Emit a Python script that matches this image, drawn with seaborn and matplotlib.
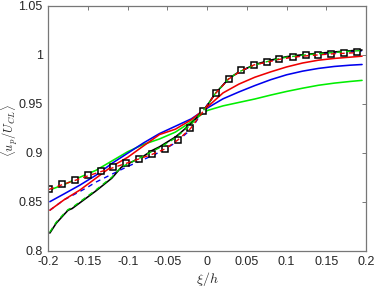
import numpy as np
import pandas as pd
import matplotlib
matplotlib.use("Agg")
import matplotlib.pyplot as plt
import seaborn as sns

# ---------------- data ----------------
xi_grid = [-0.198, -0.18, -0.16, -0.14, -0.12, -0.10, -0.08, -0.06, -0.04, -0.02,
           0.0, 0.02, 0.04, 0.06, 0.08, 0.10, 0.12, 0.14, 0.16, 0.18, 0.195]

green_solid = [0.862, 0.8675, 0.875, 0.882, 0.8915, 0.901, 0.9085, 0.914, 0.921, 0.9315,
               0.943, 0.9478, 0.9513, 0.9548, 0.9588, 0.9625, 0.9658, 0.9688, 0.971, 0.9727, 0.9738]
blue_solid = [0.850, 0.858, 0.867, 0.877, 0.889, 0.8995, 0.910, 0.9195, 0.927, 0.9345,
              0.9455, 0.955, 0.962, 0.9685, 0.9745, 0.9795, 0.9832, 0.986, 0.988, 0.9893, 0.990]
red_solid = [0.8413, 0.852, 0.862, 0.874, 0.886, 0.8953, 0.907, 0.9185, 0.924, 0.9335,
             0.9465, 0.961, 0.970, 0.977, 0.9825, 0.9875, 0.9915, 0.9944, 0.9962, 0.9975, 0.9985]

xi_black = [-0.198, -0.19, -0.18, -0.175, -0.17, -0.16, -0.15, -0.14, -0.12, -0.108, -0.10,
            -0.08, -0.07, -0.06, -0.04, -0.033, -0.02, -0.006, 0.0, 0.011, 0.02, 0.027,
            0.04, 0.06, 0.08, 0.10, 0.12, 0.14, 0.16, 0.18, 0.195]
black_solid = [0.818, 0.828, 0.837, 0.8413, 0.843, 0.849, 0.855, 0.861, 0.874, 0.8852, 0.8885,
               0.8965, 0.902, 0.906, 0.916, 0.9207, 0.930, 0.942, 0.948, 0.9613, 0.969, 0.9755,
               0.9825, 0.990, 0.9945, 0.998, 1.000, 1.0015, 1.0028, 1.004, 1.0048]
green_dash = [0.819, 0.829, 0.838, 0.842, 0.844, 0.850, 0.856, 0.862, 0.875, 0.8855, 0.8885,
              0.8965, 0.901, 0.905, 0.915, 0.920, 0.929, 0.942, 0.948, 0.9613, 0.969, 0.9755,
              0.9825, 0.9895, 0.994, 0.9975, 0.9995, 1.001, 1.0023, 1.0035, 1.0043]

xi_bdash = [-0.198, -0.18, -0.16, -0.15, -0.14, -0.12, -0.10, -0.08, -0.06, -0.04, -0.02,
            -0.006, 0.011, 0.027, 0.043, 0.06, 0.08, 0.10, 0.12, 0.14, 0.16, 0.18, 0.195]
blue_dash = [0.8413, 0.852, 0.8605, 0.865, 0.870, 0.878, 0.886, 0.893, 0.9005, 0.910, 0.924,
             0.942, 0.961, 0.9755, 0.9835, 0.9895, 0.994, 0.997, 0.999, 1.0005, 1.0018, 1.003, 1.004]

xi_markers = [-0.199, -0.183, -0.166, -0.150, -0.134, -0.118, -0.102, -0.086, -0.069, -0.053,
              -0.037, -0.021, -0.005, 0.011, 0.027, 0.043, 0.059, 0.075, 0.091, 0.108,
              0.124, 0.140, 0.156, 0.172, 0.188]
u_markers = [0.8629, 0.8676, 0.8722, 0.8768, 0.8810, 0.8852, 0.8895, 0.8940, 0.8988, 0.9042,
             0.9133, 0.9250, 0.9427, 0.9613, 0.9755, 0.9840, 0.9900, 0.9927, 0.9957, 0.9978,
             0.9992, 1.0002, 1.0012, 1.0018, 1.0025]
red_dash = [0.8625, 0.8672, 0.8718, 0.8764, 0.8806, 0.8848, 0.8891, 0.8936, 0.8984, 0.9038,
            0.9129, 0.9246, 0.9423, 0.9609, 0.9751, 0.9836, 0.9896, 0.9923, 0.9953, 0.9974,
            0.9988, 0.9998, 1.0008, 1.0014, 1.0021]

xticks = [-0.2, -0.15, -0.1, -0.05, 0, 0.05, 0.1, 0.15, 0.2]
xtick_labels = ["-0.2", "-0.15", "-0.1", "-0.05", "0", "0.05", "0.1", "0.15", "0.2"]
yticks = [0.8, 0.85, 0.9, 0.95, 1.0, 1.05]
ytick_labels = ["0.8", "0.85", "0.9", "0.95", "1", "1.05"]

# ---------------- style ----------------
sns.set_style("white")
plt.rcParams["font.family"] = ["Liberation Sans", "DejaVu Sans"]
plt.rcParams["mathtext.fontset"] = "cm"

DPI = 100
fig = plt.figure(figsize=(3.74, 2.88), dpi=DPI)
ax = fig.add_axes([0.129, 0.1295, 0.8497, 0.8507])

lw = 1.15
dash = (3.5, 3)
sns.lineplot(x=xi_grid, y=green_solid, ax=ax, color="#00ee00", lw=lw, sort=False)
sns.lineplot(x=xi_grid, y=blue_solid, ax=ax, color="#0000ee", lw=lw, sort=False)
ax.plot(xi_bdash, blue_dash, color="#0000ee", lw=1.0, dashes=dash)
sns.lineplot(x=xi_grid, y=red_solid, ax=ax, color="#ee0000", lw=lw, sort=False)
sns.lineplot(x=xi_black, y=black_solid, ax=ax, color="black", lw=lw, sort=False)

sns.lineplot(x=xi_markers, y=u_markers, ax=ax, color="black", lw=0, marker="s",
             markersize=4.8, markerfacecolor="white", markeredgecolor="black",
             markeredgewidth=1.1, sort=False)

ax.plot(xi_black, green_dash, color="#00cc00", lw=1.0, dashes=dash)
ax.plot(xi_markers, red_dash, color="#ee0000", lw=1.0, dashes=dash)

ax.set_xlim(-0.2, 0.2)
ax.set_ylim(0.8, 1.05)
ax.set_xticks(xticks)
ax.set_xticklabels(xtick_labels)
ax.set_yticks(yticks)
ax.set_yticklabels(ytick_labels)

spine_c = "#777777"
for s in ax.spines.values():
    s.set_visible(True)
    s.set_color(spine_c)
    s.set_linewidth(0.9)
ax.tick_params(direction="in", length=3, width=0.7, color=spine_c,
               top=True, right=True, labelsize=9, labelcolor="#262626", pad=4)

ax.set_xlabel(r"$\xi/h$", fontsize=10, color="#262626", labelpad=1)
ax.set_ylabel(r"$\langle u_p/U_{CL}\rangle$", fontsize=9, color="#262626")
ax.yaxis.set_label_coords(-0.088, 0.49)

fig.savefig("out.png", dpi=DPI)
